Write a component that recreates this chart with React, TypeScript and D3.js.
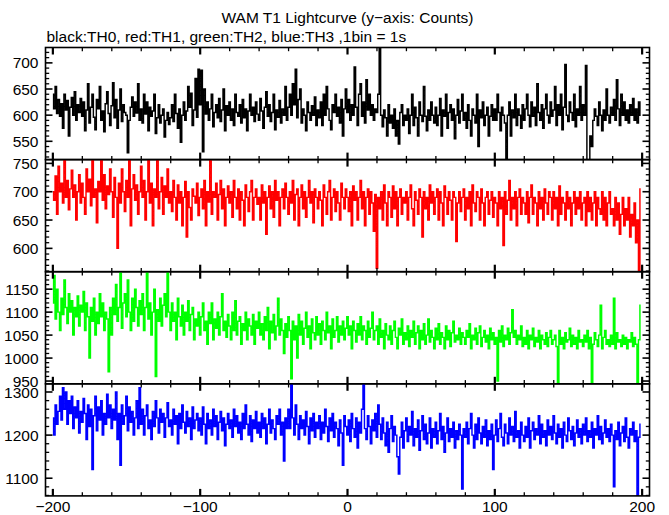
import React from "react";
import * as d3 from "d3";

const TIME_START = -200;

const TH0 = [
  640,612,655,603,630,598,622,575,640,610,628,560,615,634,600,645,590,620,605,632,
  598,625,570,610,660,585,615,640,596,572,630,612,655,590,608,568,622,645,603,580,
  618,662,595,630,575,610,650,588,620,605,600,528,590,615,635,598,625,604,660,590,
  612,585,640,602,625,570,615,598,608,640,565,595,620,585,600,612,558,590,605,582,
  595,620,588,640,603,575,612,548,600,625,590,608,655,615,642,580,610,670,596,688,
  620,686,530,650,602,625,590,612,640,578,605,620,595,632,588,610,650,570,618,600,
  625,590,612,580,640,605,598,620,585,630,595,612,570,608,640,600,615,588,625,602,
  590,632,608,575,615,645,598,620,588,605,640,572,610,596,628,585,612,600,655,590,
  615,640,600,660,620,688,595,630,650,585,612,600,570,625,605,590,618,600,635,580,
  610,595,625,580,640,600,655,612,590,572,620,605,640,598,615,585,630,560,612,650,
  605,630,590,620,600,692,615,580,640,660,598,625,585,668,610,640,600,620,590,612,
  605,640,735,600,578,610,595,560,620,585,600,575,612,560,590,545,605,620,580,600,
  590,612,565,600,640,580,615,595,560,625,600,588,655,598,570,610,590,625,600,585,
  615,580,600,632,560,610,598,640,575,605,620,590,612,555,600,630,585,608,640,590,
  605,575,620,590,560,612,600,585,640,540,610,595,625,580,600,615,560,598,620,590,
  612,590,640,605,570,615,600,585,510,600,625,560,610,595,640,580,612,600,575,620,
  590,612,640,600,578,625,598,615,580,660,605,590,620,575,612,640,600,585,625,598,
  610,655,580,620,600,640,572,615,697,600,588,625,605,590,640,578,612,600,655,590,
  620,600,695,510,512,560,540,590,612,598,580,625,600,570,610,590,650,600,585,615,
  600,630,590,668,612,580,640,600,625,590,610,585,620,600,632,590,612,585,625,600
];

const TH1 = [
  700,685,728,660,745,700,715,680,755,690,720,668,705,738,690,712,650,700,730,680,
  715,690,660,740,700,722,675,755,690,705,645,718,700,760,685,730,670,710,695,740,
  700,655,725,690,600,715,680,740,700,665,720,690,758,640,705,730,685,712,660,700,
  745,690,720,650,700,760,680,715,640,705,690,755,670,700,725,660,710,690,740,680,
  700,665,720,690,650,712,680,700,640,690,718,620,700,672,650,705,692,680,715,658,
  690,705,670,720,640,700,682,755,660,700,690,715,650,695,720,670,705,640,690,710,
  680,700,655,720,690,670,705,650,700,685,640,712,690,665,700,720,650,690,705,678,
  690,650,712,680,700,625,690,710,670,700,655,720,685,700,640,690,705,670,715,690,
  660,700,680,720,650,695,705,640,690,712,670,700,655,690,720,680,700,645,705,690,
  670,700,685,640,712,690,660,700,720,650,690,705,665,700,680,650,715,690,670,705,
  690,665,700,640,710,685,700,650,690,720,670,700,640,690,705,660,700,680,630,695,
  565,690,670,700,650,712,680,640,700,690,655,710,670,700,640,690,705,660,690,680,
  700,650,690,712,670,640,700,685,660,705,690,620,700,670,690,650,712,680,700,660,
  690,705,650,700,680,640,710,690,660,700,685,650,700,690,612,680,700,665,690,705,
  650,690,670,700,640,712,680,665,700,690,650,705,680,640,690,700,660,685,700,655,
  690,680,640,700,670,690,605,700,660,685,720,650,690,670,700,640,690,705,660,690,
  680,660,700,645,690,712,660,690,680,640,700,670,690,650,705,680,660,700,690,650,
  700,670,690,640,710,660,690,680,650,700,670,690,640,680,700,660,690,670,700,650,
  680,690,640,700,665,690,650,680,700,640,690,670,660,700,650,690,640,680,700,660,
  670,640,690,650,680,625,660,690,640,670,650,690,620,660,640,680,610,650,560,705
];

const TH2 = [
  1120,1180,1085,1150,1100,1060,1130,1095,1170,1110,1075,1140,1100,1125,1050,1110,1090,1135,1070,1115,
  1100,1145,1060,1120,1090,1000,1110,1080,1130,1050,1100,1075,1140,1090,1120,1060,1100,1085,970,1110,
  1050,1130,1095,1160,1080,1110,1185,1065,1120,1140,1090,1170,1100,1060,1130,1080,1150,1110,1070,1125,
  1095,1140,1060,1110,1185,1085,1120,1050,1100,1150,960,1105,1080,1130,1070,1115,1140,1090,1185,1100,
  1060,1120,1080,1100,1040,1130,1090,1070,1115,1050,1100,1080,1125,1060,1095,1110,1040,1085,1070,1100,
  1050,1090,1120,1060,1080,1030,1100,1075,1120,1040,1085,1065,1100,1050,1090,1140,1060,1080,1045,1095,
  1070,1040,1100,1060,1125,1050,1080,1090,1030,1075,1060,1100,1040,1085,1070,1050,1095,1030,1080,1065,
  1100,1050,1075,1040,1090,1060,1110,1020,1080,1055,1095,1040,1070,1130,1050,1085,1060,1010,1075,1045,
  1090,1060,955,1080,1040,1070,1000,1095,1050,1080,1030,1065,1100,1045,1070,1020,1085,1055,1040,1090,
  1050,1075,1030,1080,1060,1040,1100,1055,1070,1020,1085,1045,1060,1090,1035,1070,1050,1080,1040,1065,
  1090,1050,1070,1020,1080,1060,1035,1075,1050,1090,1040,1070,1060,1030,1080,1045,1065,1100,1040,1060,
  1070,1030,1085,1045,1060,1020,1075,1050,1040,1070,1030,1060,1080,1045,1020,1065,1050,1085,1030,1055,
  1040,1070,1025,1060,1045,1080,1030,1055,1070,1020,1060,1040,1075,1030,1050,1085,1035,1060,1045,1020,
  1065,1040,1075,1030,1055,1045,1020,1070,1040,1060,1025,1055,1080,1035,1050,1040,1065,1030,1055,1045,
  1030,1060,1045,1075,1020,1050,1040,1065,1030,1055,1070,1025,1045,1060,1035,1050,1020,1065,1040,1055,
  1030,1045,950,1060,1035,1070,1025,1050,1040,1065,1030,1055,1105,1045,1060,1030,1050,1040,1070,1025,
  1045,1030,1060,1020,1050,1040,1065,1025,1045,1035,1060,1020,1050,1040,1030,1055,1025,1045,1060,1030,
  1040,1050,1025,945,1060,1030,1045,1020,1055,1035,1040,1065,1025,1050,1030,1045,1020,1060,1035,1040,
  1025,1050,1035,1060,1020,1045,945,1030,1055,1040,1025,1050,1115,1020,1045,1060,1030,1040,1025,1050,
  1030,1130,1020,1055,1035,1040,1025,1050,1030,1045,1020,1040,1035,1055,1025,1045,1030,945,1040,1115
];

const TH3 = [
  1240,1200,1270,1225,1255,1290,1235,1310,1260,1300,1225,1280,1250,1290,1215,1265,1240,1280,1205,1255,
  1230,1285,1250,1190,1270,1220,1260,1120,1245,1290,1210,1265,1235,1280,1200,1250,1225,1295,1240,1270,
  1215,1260,1235,1300,1190,1250,1130,1270,1225,1245,1290,1210,1265,1230,1255,1200,1240,1280,1215,1310,
  1225,1260,1200,1245,1270,1215,1235,1190,1255,1220,1280,1240,1205,1260,1230,1250,1195,1240,1275,1220,
  1235,1200,1260,1225,1245,1180,1250,1215,1270,1230,1205,1255,1220,1240,1190,1265,1215,1235,1250,1210,
  1240,1200,1265,1225,1180,1250,1215,1235,1200,1260,1220,1245,1190,1230,1255,1210,1240,1175,1225,1250,
  1215,1235,1195,1260,1220,1245,1205,1230,1190,1250,1215,1270,1225,1200,1245,1185,1235,1215,1255,1205,
  1230,1195,1250,1215,1240,1180,1225,1260,1205,1235,1215,1190,1245,1225,1260,1200,1230,1140,1240,1215,
  1260,1215,1325,1240,1200,1270,1225,1190,1245,1215,1235,1200,1255,1220,1180,1240,1210,1250,1195,1230,
  1215,1245,1190,1230,1205,1260,1220,1185,1240,1210,1250,1195,1230,1215,1175,1235,1205,1130,1245,1220,
  1200,1235,1185,1250,1215,1195,1240,1170,1230,1205,1260,1325,1215,1190,1245,1220,1180,1235,1210,1250,
  1195,1270,1225,1190,1240,1205,1175,1230,1160,1215,1245,1185,1220,1200,1150,1110,1195,1230,1170,1210,
  1240,1185,1220,1200,1255,1175,1215,1195,1235,1165,1210,1245,1190,1225,1180,1205,1240,1170,1215,1195,
  1230,1180,1210,1250,1190,1220,1160,1205,1240,1185,1215,1195,1230,1170,1210,1190,1225,1200,1075,1215,
  1195,1230,1180,1215,1250,1200,1170,1225,1190,1240,1205,1180,1220,1195,1235,1175,1210,1190,1225,1120,
  1200,1235,1185,1215,1250,1195,1175,1225,1205,1180,1240,1200,1220,1185,1255,1195,1210,1170,1230,1200,
  1185,1220,1195,1240,1170,1210,1230,1190,1215,1200,1245,1180,1225,1195,1210,1175,1235,1200,1220,1190,
  1245,1205,1180,1225,1195,1215,1170,1230,1200,1185,1240,1210,1190,1220,1175,1205,1235,1195,1215,1180,
  1225,1200,1240,1185,1210,1195,1230,1170,1215,1200,1245,1190,1220,1180,1205,1235,1195,1215,1185,1225,
  1200,1080,1210,1190,1230,1175,1205,1220,1185,1240,1195,1170,1215,1200,1230,1185,1210,1060,1195,1225
];

const X_MAJOR = [-200, -100, 0, 100, 200];
const TITLE = "WAM T1 Lightcurve (y\u2212axis: Counts)";
const SUBTITLE = "black:TH0, red:TH1, green:TH2, blue:TH3 ,1bin = 1s";

const PANEL_DEFS = [
  { data: TH0, color: "#000000", domain: [515, 729.4], major: [550, 600, 650, 700], minor: 10 },
  { data: TH1, color: "#ff0000", domain: [558.8, 756.7], major: [600, 650, 700, 750], minor: 10 },
  { data: TH2, color: "#00ff00", domain: [944, 1188], major: [950, 1000, 1050, 1100, 1150], minor: 10 },
  { data: TH3, color: "#0000ff", domain: [1059, 1319], major: [1100, 1200, 1300], minor: 20 },
];

const W = 669;
const H = 515;
const LEFT = 45.5;
const RIGHT = 649.5;
const TOP = 47.5;
const PANEL_H = 112.1;
const FONT = "'Liberation Sans', Arial, Helvetica, sans-serif";

function fmt(v: number) {
  return v < 0 ? "\u2212" + Math.abs(v) : String(v);
}

export default function App() {
  const x = d3.scaleLinear().domain([-205, 205]).range([LEFT, RIGHT]);
  const xMinor = d3.range(-200, 201, 20).filter((v) => v % 100 !== 0);

  return (
    <div style={{ position: "fixed", left: 0, top: 0 }}>
      <svg width={W} height={H} style={{ display: "block", background: "#fff" }}>
        <defs>
          {PANEL_DEFS.map((p, i) => (
            <clipPath id={`clip${i}`} key={i}>
              <rect x={LEFT} y={TOP + i * PANEL_H} width={RIGHT - LEFT} height={PANEL_H} />
            </clipPath>
          ))}
        </defs>
        <text x={(LEFT + RIGHT) / 2} y={23} textAnchor="middle" fontFamily={FONT} fontSize={15.5}>
          {TITLE}
        </text>
        <text x={LEFT + 1} y={42} fontFamily={FONT} fontSize={15.5}>
          {SUBTITLE}
        </text>
        {PANEL_DEFS.map((p, i) => {
          const y0 = TOP + i * PANEL_H;
          const y1 = y0 + PANEL_H;
          const y = d3.scaleLinear().domain(p.domain).range([y1, y0]);
          const line = d3
            .line<number>()
            .x((_, k) => x(TIME_START + k))
            .y((d) => y(d))
            .curve(d3.curveStep);
          const minorY = d3
            .range(Math.ceil(p.domain[0] / p.minor) * p.minor, p.domain[1], p.minor)
            .filter((v) => !p.major.includes(v));
          return (
            <g key={i}>
              <path
                d={line(p.data) || ""}
                fill="none"
                stroke={p.color}
                strokeWidth={1.45}
                clipPath={`url(#clip${i})`}
              />
              <rect x={LEFT} y={y0} width={RIGHT - LEFT} height={PANEL_H} fill="none" stroke="#000" strokeWidth={1.6} />
              {p.major.map((v) => (
                <g key={"M" + v}>
                  <line x1={LEFT} x2={LEFT + 7} y1={y(v)} y2={y(v)} stroke="#000" strokeWidth={1.6} />
                  <line x1={RIGHT} x2={RIGHT - 7} y1={y(v)} y2={y(v)} stroke="#000" strokeWidth={1.6} />
                  <text
                    x={LEFT - 7}
                    y={y(v)}
                    dy="0.36em"
                    textAnchor="end"
                    fontFamily={FONT}
                    fontSize={15.5}
                  >
                    {fmt(v)}
                  </text>
                </g>
              ))}
              {minorY.map((v) => (
                <g key={"m" + v}>
                  <line x1={LEFT} x2={LEFT + 3.7} y1={y(v)} y2={y(v)} stroke="#000" strokeWidth={1.3} />
                  <line x1={RIGHT} x2={RIGHT - 3.7} y1={y(v)} y2={y(v)} stroke="#000" strokeWidth={1.3} />
                </g>
              ))}
              {X_MAJOR.map((v) => (
                <g key={"xM" + v}>
                  <line x1={x(v)} x2={x(v)} y1={y0} y2={y0 + 7} stroke="#000" strokeWidth={2.2} />
                  <line x1={x(v)} x2={x(v)} y1={y1} y2={y1 - 7} stroke="#000" strokeWidth={2.2} />
                </g>
              ))}
              {xMinor.map((v) => (
                <g key={"xm" + v}>
                  <line x1={x(v)} x2={x(v)} y1={y0} y2={y0 + 3.7} stroke="#000" strokeWidth={1.3} />
                  <line x1={x(v)} x2={x(v)} y1={y1} y2={y1 - 3.7} stroke="#000" strokeWidth={1.3} />
                </g>
              ))}
            </g>
          );
        })}
        {X_MAJOR.map((v) => (
          <text
            key={"xl" + v}
            x={x(v)}
            y={TOP + 4 * PANEL_H + 16.5}
            textAnchor="middle"
            fontFamily={FONT}
            fontSize={15.5}
          >
            {fmt(v)}
          </text>
        ))}
      </svg>
    </div>
  );
}
